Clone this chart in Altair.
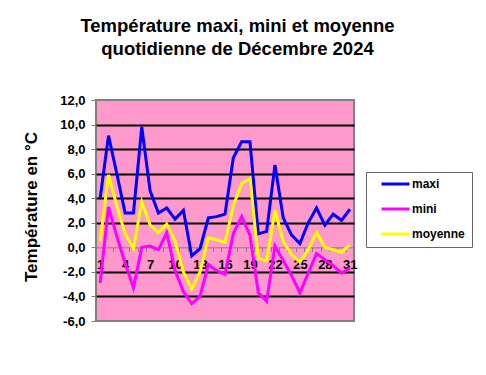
import altair as alt
import pandas as pd

days = list(range(1, 32))
maxi = [4.0, 9.1, 6.0, 2.8, 2.8, 9.8, 4.6, 2.8, 3.2, 2.3, 3.0, -0.7, -0.1, 2.4, 2.5, 2.7,
        7.3, 8.6, 8.6, 1.1, 1.3, 6.7, 2.4, 1.0, 0.3, 2.0, 3.2, 1.8, 2.7, 2.2, 3.1]
mini = [-2.9, 3.3, 0.9, -1.3, -3.3, 0.0, 0.1, -0.2, 1.2, -1.9, -3.6, -4.6, -4.0, -1.4, -1.9, -2.2,
        1.1, 2.5, 1.0, -3.7, -4.4, 0.1, -1.1, -2.3, -3.7, -2.1, -0.5, -1.0, -1.5, -2.1, -1.7]
moyenne = [0.5, 5.9, 3.4, 1.1, -0.1, 3.7, 1.8, 1.2, 1.9, 0.5, -2.0, -3.4, -2.0, 0.8, 0.6, 0.4,
           3.4, 5.2, 5.6, -0.9, -1.1, 3.0, 0.5, -0.6, -1.2, -0.2, 1.2, 0.0, -0.2, -0.4, 0.2]
series_names = ["maxi", "mini", "moyenne"]
series_colors = ["#0000FF", "#FF00FF", "#FFFF00"]
y_ticks = [-6, -4, -2, 0, 2, 4, 6, 8, 10, 12]
title_lines = ["Température maxi, mini et moyenne", "quotidienne de Décembre 2024"]
y_title = "Température en °C"

rows = []
for name, vals in zip(series_names, [maxi, mini, moyenne]):
    for d, v in zip(days, vals):
        rows.append({"jour": d, "temp": v, "serie": name})
df = pd.DataFrame(rows)

FONT = "Liberation Sans, Arial, sans-serif"
W, H = 258, 221
zero_px = (12 - 0) / 18 * H
half_day = W / 31 / 2

x = alt.X(
    "jour:Q",
    scale=alt.Scale(domain=[0.5, 31.5], nice=False, zero=False),
    axis=alt.Axis(
        values=days, title=None, offset=zero_px - H,
        tickOffset=half_day, labelOffset=-half_day,
        labelExpr="(datum.value - 1) % 3 == 0 ? datum.value : ''",
        tickSize=4, tickColor="#808080", domainColor="#808080", domainWidth=1,
        labelFont=FONT, labelFontSize=13, labelFontWeight="bold", labelColor="black",
        labelPadding=7, grid=False, labelOverlap=False, labelFlush=False,
    ),
)

y = alt.Y(
    "temp:Q",
    scale=alt.Scale(domain=[-6, 12], nice=False, zero=False),
    axis=alt.Axis(
        values=y_ticks, title=y_title, titleFont=FONT, titleFontSize=17,
        titleFontWeight="bold", titleColor="black", titleX=-65, titleY=106.5,
        titleAngle=270, titleAlign="center", titleBaseline="middle",
        labelExpr="(datum.value < 0 ? '-' : '') + replace(format(abs(datum.value), '.1f'), '.', ',')",
        labelFont=FONT, labelFontSize=13, labelFontWeight="bold", labelColor="black",
        labelPadding=6, tickSize=5, tickColor="#808080", domain=False,
        grid=True, gridWidth=2, gridOpacity=1,
        gridColor={"condition": {"test": "datum.value == 0 || datum.value == 12 || datum.value == -6",
                                 "value": "transparent"}, "value": "black"},
    ),
)

color = alt.Color(
    "serie:N",
    scale=alt.Scale(domain=series_names, range=series_colors),
    legend=alt.Legend(
        title=None, orient="none", legendX=270, legendY=72,
        symbolType="stroke", symbolSize=784, symbolStrokeWidth=3,
        clipHeight=10, rowPadding=13, padding=7, symbolOffset=7, labelOffset=1,
        labelFont=FONT, labelFontSize=12, labelFontWeight="bold", labelColor="black",
        fillColor="white", strokeColor="#666666",
    ),
)

chart = (
    alt.Chart(df)
    .mark_line(strokeWidth=3)
    .encode(x=x, y=y, color=color)
    .properties(
        width=W, height=H,
        background="white",
        autosize=alt.AutoSizeParams(type="none"),
        padding={"left": 88, "top": 92, "right": 120, "bottom": 40},
        title=alt.TitleParams(
            title_lines, font=FONT, fontSize=18.5, fontWeight="bold", color="black",
            anchor="middle", frame="group", dx=12.5, offset=21,
            baseline="alphabetic", lineHeight=23,
        ),
    )
    .configure_view(fill="#FF99CC", stroke="#808080", strokeWidth=2)
)

chart.save("out.html", embed_options={"renderer": "svg", "actions": False})
